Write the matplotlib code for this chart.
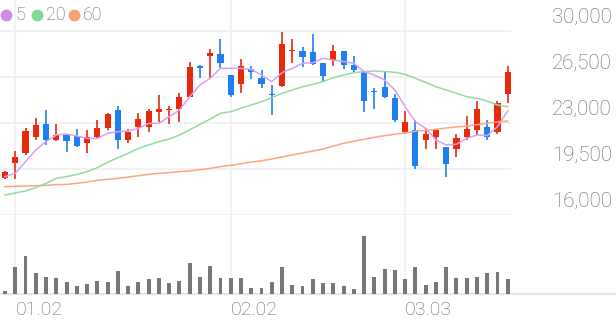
import matplotlib
matplotlib.use("Agg")
import matplotlib.pyplot as plt
from matplotlib.transforms import blended_transform_factory, ScaledTranslation

# Datos de las velas (precio diario)
opens = [18850, 19950, 20700, 21950, 22900, 21700, 22100, 22000, 21500, 21950,
         22600, 24000, 21700, 22700, 22700, 23850, 24000, 24050, 25000, 27300,
         28100, 28250, 26650, 25950, 27100, 26400, 25200, 25800, 28450, 28500,
         28400, 27550, 27800, 28500, 27450, 26850, 25450, 25750, 24900, 22300,
         22450, 21700, 21950, 21200, 21000, 21900, 22450, 22700, 22350, 25200]
closes = [19300, 20450, 22400, 22850, 21700, 22100, 21650, 21250, 21950, 22650,
          23650, 21700, 22350, 23300, 23900, 24050, 24100, 24950, 27250, 27200,
          28300, 27550, 25150, 27300, 26850, 25950, 25100, 29000, 28550, 28000,
          27500, 26600, 28450, 27450, 27000, 24650, 25350, 25000, 23250, 23050,
          19750, 22150, 22450, 19850, 21850, 22550, 24050, 21950, 24500, 26850]
highs = [19350, 20850, 22650, 23350, 24000, 22900, 22100, 22550, 22450, 23250,
         23750, 24300, 22550, 23750, 24050, 25100, 24300, 25250, 27650, 27450,
         28600, 29400, 26650, 27850, 27300, 27050, 25900, 29900, 29400, 28800,
         29800, 27600, 28900, 28500, 28100, 26900, 25650, 26900, 25200, 23900,
         23250, 22650, 22450, 21200, 22200, 23550, 24650, 23250, 24650, 27300]
lows = [18750, 18750, 20600, 21700, 21300, 21650, 20800, 21200, 20750, 21850,
        22450, 21000, 21450, 21900, 22350, 23100, 22900, 23100, 24950, 26400,
        26400, 27150, 25000, 25250, 26350, 25700, 23600, 25750, 27600, 27250,
        27400, 26100, 27350, 27100, 26800, 23850, 24100, 24900, 23100, 22200,
        19500, 21000, 21050, 18900, 20450, 21700, 22100, 21700, 22150, 24550]

# Medias moviles
ma5 = [18920, 19170, 20060, 20950, 21580, 22090, 22160, 22010, 21830, 21830,
       22210, 22340, 22390, 22590, 22970, 22970, 23480, 23990, 25000, 25890,
       26400, 27160, 27160, 27160, 27080, 26650, 26150, 26830, 27160, 27540,
       27590, 27920, 27790, 27670, 27540, 26910, 26650, 26270, 25510, 24240,
       23100, 22590, 21710, 21330, 21380, 21830, 22090, 22040, 22720, 23910]
ma20 = [17520, 17670, 17830, 18080, 18410, 18790, 18920, 19090, 19300, 19600,
        20010, 20360, 20690, 21070, 21330, 21580, 21780, 22090, 22470, 22900,
        23300, 23740, 23860, 24120, 24370, 24620, 24930, 25260, 25510, 25760,
        25940, 26150, 26450, 26650, 26830, 26910, 26960, 26910, 26860, 26700,
        26400, 26090, 25760, 25510, 25260, 25000, 24880, 24670, 24370, 24240]
ma60 = [18160, 18180, 18210, 18230, 18260, 18310, 18330, 18410, 18510, 18640,
        18710, 18790, 18890, 18990, 19090, 19170, 19220, 19300, 19350, 19450,
        19550, 19680, 19780, 19910, 20030, 20130, 20260, 20410, 20570, 20720,
        20870, 21020, 21250, 21450, 21610, 21760, 21910, 22040, 22140, 22260,
        22370, 22440, 22520, 22620, 22700, 22770, 22870, 22980, 23080, 23150]

# Volumen (unidades relativas)
volumes = [10, 80, 115, 62, 52, 49, 36, 25, 31, 38, 37, 69, 23, 35, 45, 47, 34,
           39, 92, 52, 84, 47, 49, 49, 19, 19, 35, 82, 27, 24, 44, 32, 33, 24,
           16, 175, 51, 74, 71, 46, 82, 27, 36, 80, 47, 47, 51, 62, 66, 44]

tick_idx = [1, 22, 39]
tick_labels = ["01.02", "02.02", "03.03"]
price_levels = [16000, 19500, 23000, 26500, 30000]
ma_labels = ["5", "20", "60"]

RED = "#e8290b"
BLUE = "#1e7ef2"
MA_COLORS = ["#d9a0f0", "#92dca0", "#ffa47e"]
DOT_COLORS = ["#cc8de8", "#7fd799", "#f9a077"]
GRID = "#f1f1f1"
TEXT = "#666666"

W, H = 616, 321
FONT = "Roboto"


def main():
    fig = plt.figure(figsize=(W / 100, H / 100), dpi=100)
    n = len(opens)
    step = 10.26  # pixeles por vela
    x0 = -5 / step

    # Panel de precios
    ax = fig.add_axes([0, (H - 215) / H, 511 / W, 215 / H])
    ax.set_xlim(x0, x0 + 511 / step)
    top = 30000 + 31 * (14000 / 184)
    ax.set_ylim(16000, top)
    ax.axis("off")

    for lvl in price_levels:
        ax.axhline(lvl, color=GRID, lw=1.4, zorder=0)
    for t in tick_idx:
        ax.axvline(t, color=GRID, lw=1.2, zorder=0)

    xs = list(range(n))
    colors = [RED if c >= o else BLUE for o, c in zip(opens, closes)]
    ax.vlines(xs, lows, highs, colors=colors, lw=1.2, zorder=2)
    bottoms = [min(o, c) for o, c in zip(opens, closes)]
    heights = [max(abs(c - o), 60) for o, c in zip(opens, closes)]
    ax.bar(xs, heights, bottom=bottoms, width=0.6, color=colors, zorder=3)

    for ma, col in zip([ma60, ma20, ma5], MA_COLORS[::-1]):
        ax.plot(xs, ma, color=col, lw=1.1, zorder=4)

    # Etiquetas del eje de precios (encima de la linea)
    tr = blended_transform_factory(fig.transFigure, ax.transData) + \
        ScaledTranslation(0, 14 / 100, fig.dpi_scale_trans)
    for lvl in price_levels:
        ax.text(612 / W, lvl, f"{lvl:,}", transform=tr, ha="right", va="center",
                fontsize=14.8, color=TEXT, family=FONT, fontweight="light")

    # Panel de volumen
    axv = fig.add_axes([0, 27 / H, 1, 79 / H])
    axv.set_xlim(x0, x0 + W / step)
    axv.set_ylim(0, 175 * 79 / 58.3)
    axv.axis("off")
    for t in tick_idx:
        axv.axvline(t, color=GRID, lw=1.2, zorder=0)
    axv.bar(xs, volumes, width=0.38, color="#777777", zorder=2)
    axv.axhline(0, color="#e6e6e6", lw=1.6, zorder=1, clip_on=False)

    trx = blended_transform_factory(axv.transData, fig.transFigure)
    for t, lab in zip(tick_idx, tick_labels):
        axv.text(t, 1 - 310 / H, lab, transform=trx, ha="left", va="center",
                 fontsize=14, color=TEXT, family=FONT, fontweight="light")

    # Leyenda de medias moviles
    dot_x = [6, 37, 74]
    txt_x = [15, 46, 83]
    for dx, tx, col, lab in zip(dot_x, txt_x, DOT_COLORS, ma_labels):
        fig.lines.append(plt.Line2D([dx / W], [1 - 15 / H], marker="o", ms=7.5,
                                    color=col, transform=fig.transFigure))
        fig.text(tx / W, 1 - 15 / H, lab, ha="left", va="center", fontsize=12.8,
                 color=TEXT, family=FONT, fontweight="light")

    fig.savefig("out.png", dpi=100)


if __name__ == "__main__":
    main()
